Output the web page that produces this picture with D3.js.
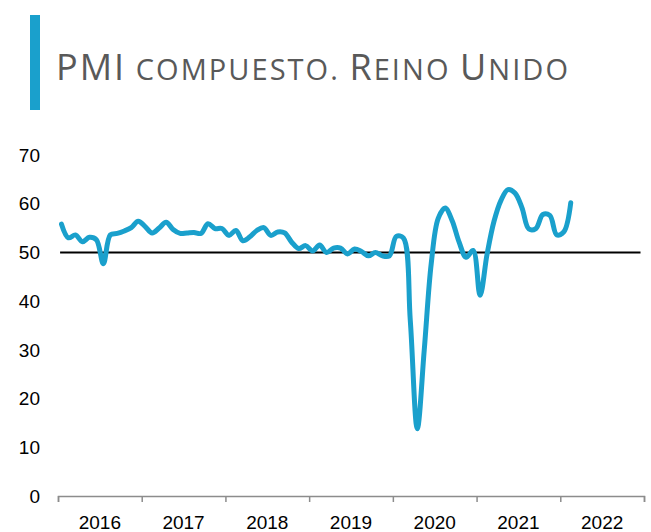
<!doctype html>
<html>
<head>
<meta charset="utf-8">
<script src="https://d3js.org/d3.v7.min.js"></script>
<style>
    body { margin: 0; background: #fff; }
    .title {
        font-family: "Open Sans", sans-serif;
        fill: #595959;
    }
    .ylab, .xlab {
        font-family: "Liberation Sans", Arial, sans-serif;
        font-size: 19px;
        fill: #000;
    }
</style>
</head>
<body>
<svg width="651" height="532" class="chart"></svg>
<script>
// tick labels
var years = ["2016", "2017", "2018", "2019", "2020", "2021", "2022"];
var yTicks = [0, 10, 20, 30, 40, 50, 60, 70];

// monthly composite PMI, Jan 2016 .. Feb 2022
var pmi2016 = [55.8, 53.0, 53.6, 52.2, 53.1, 52.6, 47.7, 53.6, 53.9, 54.4, 55.1, 56.4];
var pmi2017 = [55.3, 54.0, 55.0, 56.2, 54.7, 53.9, 54.0, 54.1, 53.9, 55.9, 54.9, 54.9];
var pmi2018 = [53.5, 54.5, 52.4, 53.2, 54.5, 55.1, 53.5, 54.2, 54.0, 52.1, 50.8, 51.4];
var pmi2019 = [50.3, 51.5, 50.0, 50.9, 50.9, 49.7, 50.7, 50.2, 49.3, 50.0, 49.3, 49.3];
var pmi2020 = [53.3, 53.0, 36.0, 13.8, 30.0, 47.7, 57.0, 59.1, 56.5, 52.1, 49.0, 50.4];
var pmi2021 = [41.2, 49.6, 56.4, 60.7, 62.9, 62.2, 59.2, 54.8, 54.9, 57.8, 57.6, 53.6];
var pmi2022 = [54.2, 60.2];
var pmi = [].concat(pmi2016, pmi2017, pmi2018, pmi2019, pmi2020, pmi2021, pmi2022);
var refLevel = 50;

// title pieces: [text, big letter?]
var titleParts = [["P", 1], ["MI", 1], [" COMPUESTO. ", 0], ["R", 1], ["EINO ", 0], ["U", 1], ["NIDO", 0]];

var svg = d3.select(".chart");
var mLeft = 58, mRight = 644, mTop = 155, mBottom = 496;

// title
svg.append("rect")
    .attr("x", 30).attr("y", 15)
    .attr("width", 10).attr("height", 95)
    .attr("fill", "#1aa0cc");
var title = svg.append("text")
    .attr("class", "title")
    .attr("x", 56).attr("y", 80)
    .attr("textLength", 512)
    .attr("lengthAdjust", "spacing");
title.selectAll("tspan")
    .data(titleParts)
    .enter().append("tspan")
    .attr("font-size", function(d) { return d[1] ? "36px" : "29px"; })
    .text(function(d) { return d[0]; });

var x = d3.scaleLinear().domain([0, years.length * 12]).range([mLeft, mRight]);
var y = d3.scaleLinear().domain([0, 70]).range([mBottom, mTop]);

// y labels, no axis line
svg.append("g").selectAll("text")
    .data(yTicks)
    .enter().append("text")
    .attr("class", "ylab")
    .attr("x", 40)
    .attr("y", function(d) { return y(d); })
    .attr("dy", "0.35em")
    .attr("text-anchor", "end")
    .text(function(d) { return d; });

// x axis: ticks at year boundaries, labels centred in each year
var xAxis = svg.append("g")
    .attr("transform", "translate(0," + mBottom + ")")
    .call(d3.axisBottom(x)
        .tickValues(d3.range(0, years.length * 12 + 1, 12))
        .tickSize(6)
        .tickFormat(""));
xAxis.select(".domain").attr("stroke", "#8c8c8c").attr("stroke-width", 1.5);
xAxis.selectAll(".tick line").attr("stroke", "#8c8c8c").attr("stroke-width", 1.5);

svg.append("g").selectAll("text")
    .data(years)
    .enter().append("text")
    .attr("class", "xlab")
    .attr("x", function(d, i) { return x(i * 12 + 6); })
    .attr("y", 529)
    .attr("text-anchor", "middle")
    .text(function(d) { return d; });

// 50 reference line
svg.append("line")
    .attr("x1", x(0.3)).attr("x2", x(83.5))
    .attr("y1", y(refLevel)).attr("y2", y(refLevel))
    .attr("stroke", "#000")
    .attr("stroke-width", 2);

// PMI line
var line = d3.line()
    .x(function(d, i) { return x(i + 0.5); })
    .y(function(d) { return y(d); })
    .curve(d3.curveCatmullRom.alpha(0.5));

svg.append("path")
    .datum(pmi)
    .attr("fill", "none")
    .attr("stroke", "#1aa0cc")
    .attr("stroke-width", 5)
    .attr("stroke-linejoin", "round")
    .attr("stroke-linecap", "round")
    .attr("d", line);
</script>
</body>
</html>
